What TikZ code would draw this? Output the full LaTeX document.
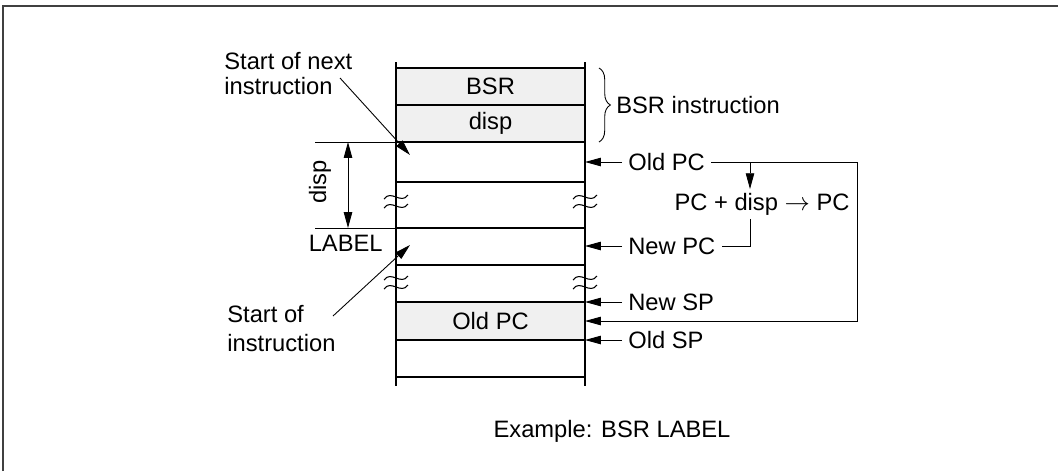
\documentclass[tikz,border=0pt]{standalone}
\usepackage{fontspec}
\setmainfont{Liberation Sans}
\usepackage{xcolor}
\definecolor{CellFill}{HTML}{F0F0F0}
\definecolor{FrameGray}{HTML}{404040}
\usetikzlibrary{arrows.meta, decorations.pathreplacing, positioning}

\begin{document}
\begin{tikzpicture}[
  x=0.02cm, y=-0.02cm,
  font=\fontsize{13.5}{15}\selectfont,
  col/.style={line width=0.75pt},
  cell/.style={
    rectangle, draw, line width=0.75pt, fill=CellFill,
    minimum width=3.78cm, minimum height=0.74cm, inner sep=0pt
  },
  lbl/.style={inner sep=0.12cm},
  thinline/.style={line width=0.5pt},
  arr/.style={-{Triangle[length=9pt,width=4.8pt]}, line width=0.5pt},
  dimarr/.style={{Triangle[length=9pt,width=4.8pt]}-{Triangle[length=9pt,width=4.8pt]}, line width=0.5pt},
]
\useasboundingbox (0,0) rectangle (1058,471);
\draw[line width=0.8pt, FrameGray] (3,471) -- (3,6) -- (1058,6);

% memory column
\coordinate (colL) at (396,0);
\coordinate (colR) at (585,0);
\node[cell] (bsr)    at (490.5,86.5)  {BSR};
\node[cell] (disp)   at (490.5,123.5) {disp};
\node[cell] (stkpc)  at (490.5,321)   {Old PC};
\draw[col] (396,62) -- (396,386);
\draw[col] (585,62) -- (585,386);
\foreach \y in {68,105,142,182,228,265,302,340,377}
  \draw[col] (396,\y) -- (585,\y);

% break marks
\foreach \x/\y in {396/197, 396/206, 585/197, 585/206, 396/278, 396/287, 585/278, 585/287}
  \draw[line width=0.6pt] (\x-12,\y+2) .. controls (\x-5,\y-8) and (\x+5,\y+8) .. (\x+12,\y-2);

% BSR instruction brace
\draw[thinline, decorate, decoration={brace, amplitude=6.5pt}] (599,68) -- (599,142);
\node[anchor=west, inner sep=0pt] (bsrinstr) at (616,105) {BSR instruction};

% pointers on the right
\node[lbl, anchor=west] (oldpc) at (622,162) {Old PC};
\node[lbl, anchor=west] (newpc) at (622,246) {New PC};
\node[lbl, anchor=west] (newsp) at (622,302) {New SP};
\node[lbl, anchor=west] (oldsp) at (622,340) {Old SP};
\draw[arr] (oldpc.west) -- (oldpc.west -| colR);
\draw[arr] (newpc.west) -- (newpc.west -| colR);
\draw[arr] (newsp.west) -- (newsp.west -| colR);
\draw[arr] (oldsp.west) -- (oldsp.west -| colR);

\node[inner sep=2pt] (calc) at (762,204) {PC + disp $\rightarrow$ PC};
\coordinate (br) at (750,162);
\coordinate (loopend) at (857,321);
\draw[arr] (oldpc.east) -| (loopend) -- (loopend -| colR);
\draw[arr] (br) -- (br |- calc.north);
\draw[thinline] (br |- calc.south) |- (newpc.east);

% disp span
\coordinate (dimtop) at (348,142);
\coordinate (dimbot) at (348,228);
\draw[thinline] (315,142) -- (colL |- dimtop);
\draw[thinline] (315,228) -- (colL |- dimbot);
\draw[dimarr] (dimtop) -- (dimbot);
\node[rotate=90, inner sep=0pt] (displbl) at (320,182) {disp};
\node[anchor=east, inner sep=0pt] (label) at (383,243) {LABEL};

% left labels
\node[anchor=north west, align=left, inner sep=0pt, font=\fontsize{13.5}{14}\selectfont] (nextlbl) at (224,52) {Start of next\\instruction};
\node[anchor=north west, align=left, inner sep=0pt, font=\fontsize{13.5}{16.5}\selectfont] (startlbl) at (227,305) {Start of\\instruction};
\coordinate (nexttail) at (340,78);
\coordinate (nexttip) at (410,155);
\coordinate (starttail) at (333,316);
\coordinate (starttip) at (410,245);
\draw[arr] (nexttail) -- (nexttip);
\draw[arr] (starttail) -- (starttip);

\node (example) at (612,431) {Example: BSR LABEL};
\end{tikzpicture}
\end{document}
